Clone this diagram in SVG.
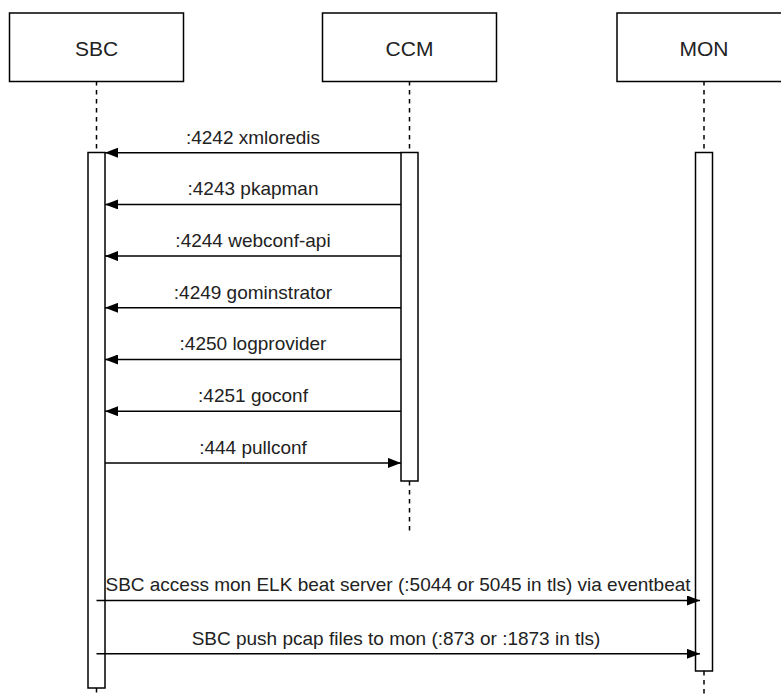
<svg xmlns="http://www.w3.org/2000/svg" width="781" height="696" viewBox="0 0 781 696">
  <defs>
    <marker id="arr" viewBox="0 0 13 10" refX="13" refY="5" markerWidth="13" markerHeight="10" markerUnits="userSpaceOnUse" orient="auto">
      <path d="M0,0 L13,5 L0,10 Z" fill="#000"/>
    </marker>
    <style>
      .box { fill: #fff; stroke: #000; stroke-width: 1.5; }
      .bar { fill: #fff; stroke: #000; stroke-width: 1.5; }
      .life { stroke: #000; stroke-width: 1.5; stroke-dasharray: 4.5 4.5; fill: none; }
      .msg { stroke: #000; stroke-width: 1.5; fill: none; marker-end: url(#arr); }
      .hdr { font-family: "Liberation Sans", Arial, sans-serif; font-size: 21px; fill: #222; text-anchor: middle; }
      .lbl { font-family: "Liberation Sans", Arial, sans-serif; font-size: 19px; fill: #222; text-anchor: middle; }
    </style>
  </defs>
  <rect width="781" height="696" fill="#fff"/>

  <g id="SBC">
    <line class="life" x1="96.5" y1="81" x2="96.5" y2="152.5"/>
    <line class="life" x1="96.5" y1="688" x2="96.5" y2="696"/>
    <rect class="box" x="9.5" y="13" width="174" height="68.5"/>
    <text class="hdr" x="96.5" y="55.5">SBC</text>
    <rect class="bar" x="88" y="152.5" width="17" height="535.5"/>
  </g>

  <g id="CCM">
    <line class="life" x1="409.5" y1="81" x2="409.5" y2="152.5"/>
    <line class="life" x1="409.5" y1="481" x2="409.5" y2="533"/>
    <rect class="box" x="322.5" y="13" width="174" height="68.5"/>
    <text class="hdr" x="409.5" y="55.5">CCM</text>
    <rect class="bar" x="401" y="152.5" width="17" height="328.5"/>
  </g>

  <g id="MON">
    <line class="life" x1="704" y1="81" x2="704" y2="152.5"/>
    <line class="life" x1="704" y1="671" x2="704" y2="696"/>
    <rect class="box" x="617" y="13" width="174" height="68.5"/>
    <text class="hdr" x="704" y="55.5">MON</text>
    <rect class="bar" x="695.5" y="152.5" width="17" height="518.5"/>
  </g>

  <g id="connectors">
    <line class="msg" x1="401" y1="152.7" x2="105" y2="152.7"/>
    <text class="lbl" x="253" y="143.5">:4242 xmloredis</text>

    <line class="msg" x1="401" y1="204.4" x2="105" y2="204.4"/>
    <text class="lbl" x="253" y="195.2">:4243 pkapman</text>

    <line class="msg" x1="401" y1="256.1" x2="105" y2="256.1"/>
    <text class="lbl" x="253" y="246.9">:4244 webconf-api</text>

    <line class="msg" x1="401" y1="307.8" x2="105" y2="307.8"/>
    <text class="lbl" x="253" y="298.6">:4249 gominstrator</text>

    <line class="msg" x1="401" y1="359.5" x2="105" y2="359.5"/>
    <text class="lbl" x="253" y="350.3">:4250 logprovider</text>

    <line class="msg" x1="401" y1="411.2" x2="105" y2="411.2"/>
    <text class="lbl" x="253" y="402">:4251 goconf</text>

    <line class="msg" x1="105" y1="462.9" x2="401" y2="462.9"/>
    <text class="lbl" x="253" y="453.7">:444 pullconf</text>

    <line class="msg" x1="96.5" y1="600.5" x2="700" y2="600.5"/>
    <text class="lbl" x="398" y="591.3">SBC access mon ELK beat server (:5044 or 5045 in tls) via eventbeat</text>

    <line class="msg" x1="96.5" y1="653.8" x2="700" y2="653.8"/>
    <text class="lbl" x="396" y="644.6">SBC push pcap files to mon (:873 or :1873 in tls)</text>
  </g>
</svg>
